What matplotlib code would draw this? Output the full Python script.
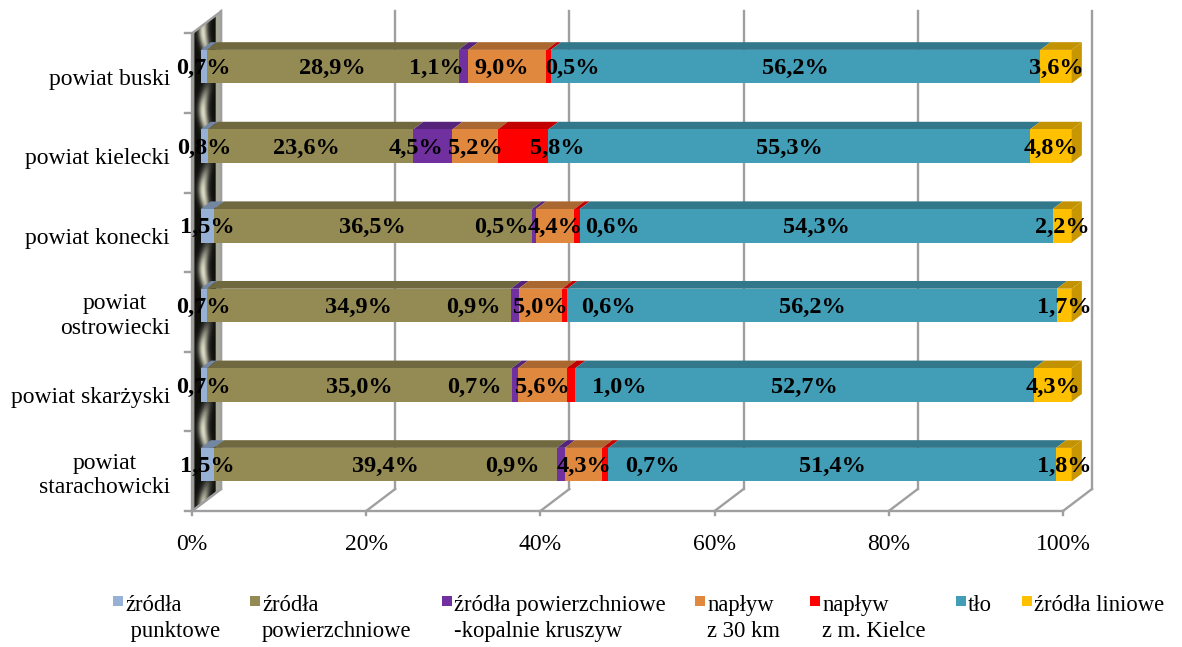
import matplotlib
matplotlib.use('Agg')
import matplotlib.pyplot as plt
from matplotlib.patches import Polygon, Rectangle
from matplotlib.colors import to_rgb
import numpy as np

plt.rcParams['font.family'] = ['Liberation Serif', 'DejaVu Serif']

# --- data -------------------------------------------------------------
categories = ['powiat buski', 'powiat kielecki', 'powiat konecki',
              'powiat\nostrowiecki', 'powiat skarżyski', 'powiat\nstarachowicki']
series_names = ['źródła\n punktowe', 'źródła\npowierzchniowe',
                'źródła powierzchniowe\n-kopalnie kruszyw', 'napływ\nz 30 km',
                'napływ\nz m. Kielce', 'tło', 'źródła liniowe']
punktowe = [0.7, 0.8, 1.5, 0.7, 0.7, 1.5]
powierzchniowe = [28.9, 23.6, 36.5, 34.9, 35.0, 39.4]
kopalnie = [1.1, 4.5, 0.5, 0.9, 0.7, 0.9]
naplyw_30km = [9.0, 5.2, 4.4, 5.0, 5.6, 4.3]
naplyw_kielce = [0.5, 5.8, 0.6, 0.6, 1.0, 0.7]
tlo = [56.2, 55.3, 54.3, 56.2, 52.7, 51.4]
liniowe = [3.6, 4.8, 2.2, 1.7, 4.3, 1.8]
xticks = [0, 20, 40, 60, 80, 100]

colors = ['#97b1d6', '#948a54', '#7030a0', '#e0883e', '#ff0000', '#429db6', '#ffc000']

# label nudges (pixels) where Excel pushed small labels apart
nudge = {(0, 2): -27, (0, 3): -6, (0, 4): 24,
         (1, 1): -4, (1, 2): -17, (1, 4): 34,
         (2, 2): -32, (2, 4): 35,
         (3, 2): -41, (3, 4): 44,
         (4, 2): -40, (4, 4): 48,
         (5, 2): -48, (5, 4): 47}

# --- layout (pixels of the 1182x647 picture) --------------------------
W, H = 1182, 647
PX_PCT = 8.71      # pixels per percent on the front plane
X0_PX = 192        # front 0 %
FLOOR_PX = 511     # front floor
CAT_PX = 79.6      # pixels per category
DX = 29 / PX_PCT   # full depth offset (percent units)
DY = 22 / CAT_PX   # full depth offset (category units)
D_FRONT, D_BACK = 0.30, 0.65
HALF = 0.21
PT = 0.72          # points per pixel at dpi 100

fig = plt.figure(figsize=(W / 100, H / 100), dpi=100)
ax = fig.add_axes([0, 0, 1, 1])
ax.axis('off')

n = len(categories)
ybot, ytop = -0.5, n - 0.5


def P(x, y, d):
    return (x + d * DX, y + d * DY)


def darker(c, f):
    return tuple(np.array(to_rgb(c)) * f)


grid = '#9f9f9f'

# back wall gridlines, floor diagonals, ticks
for v in xticks:
    ax.plot(*zip(P(v, ybot, 1), P(v, ytop, 1)), color=grid, lw=1.7, zorder=1)
    ax.plot(*zip(P(v, ybot, 0), P(v, ybot, 1)), color=grid, lw=1.7, zorder=1)
    ax.plot([v, v], [ybot, ybot - 0.055], color=grid, lw=1.7, zorder=1)
    ax.annotate(f'{v}%', (v, ybot), xytext=(0, -23 * PT), textcoords='offset points',
                ha='center', va='top', fontsize=17, zorder=5)
ax.plot([0, 100], [ybot, ybot], color=grid, lw=1.7, zorder=1)

# left side wall with a dark metallic gradient
wall = [P(0, ybot, 0), P(0, ybot, 1), P(0, ytop, 1), P(0, ytop, 0)]
uu, vv = np.meshgrid(np.linspace(0, 1, 60), np.linspace(ybot, ytop + DY, 400))
shine = np.exp(-((uu - (0.5 + 0.12 * np.sin(2 * np.pi * (vv + 0.2)))) / 0.16) ** 2)
shine *= 0.55 + 0.45 * np.cos(2 * np.pi * (vv + 0.5))
val = 0.06 + 0.8 * np.clip(shine, 0, 1)
val = np.where(uu > 0.82, 0.66, val)
val = np.where(uu < 0.08, 0.6, val)
rgb = np.dstack([val, val, val * 0.9])
img = ax.imshow(rgb, extent=(0, DX, ybot, ytop + DY), origin='lower',
                aspect='auto', interpolation='bilinear', zorder=2)
wall_patch = Polygon(wall, closed=True, facecolor='none', edgecolor=grid, lw=1.7, zorder=2.1)
ax.add_patch(wall_patch)
img.set_clip_path(wall_patch)
for k in range(n + 1):
    yk = ybot + k
    ax.plot([-0.75, 0], [yk, yk], color=grid, lw=1.7, zorder=2)

# bars
table = np.array([punktowe, powierzchniowe, kopalnie, naplyw_30km,
                  naplyw_kielce, tlo, liniowe]).T
for i, row in enumerate(table):
    yc = n - 1 - i
    left = 0.0
    for j, val_ in enumerate(row):
        a, b = left, left + val_
        c = colors[j]
        front = [P(a, yc - HALF, D_FRONT), P(b, yc - HALF, D_FRONT),
                 P(b, yc + HALF, D_FRONT), P(a, yc + HALF, D_FRONT)]
        top = [P(a, yc + HALF, D_FRONT), P(b, yc + HALF, D_FRONT),
               P(b, yc + HALF, D_BACK), P(a, yc + HALF, D_BACK)]
        ax.add_patch(Polygon(top, closed=True, facecolor=darker(c, 0.76), edgecolor='none', zorder=3))
        ax.add_patch(Polygon(front, closed=True, facecolor=c, edgecolor='none', zorder=3))
        if j == len(row) - 1:
            side = [P(b, yc - HALF, D_FRONT), P(b, yc - HALF, D_BACK),
                    P(b, yc + HALF, D_BACK), P(b, yc + HALF, D_FRONT)]
            ax.add_patch(Polygon(side, closed=True, facecolor=darker(c, 0.78), edgecolor='none', zorder=3))
        cx, cy = P((a + b) / 2, yc, D_FRONT)
        ax.annotate(f'{val_:.1f}%'.replace('.', ','), (cx, cy),
                    xytext=(nudge.get((i, j), 0) * PT, -2 * PT), textcoords='offset points',
                    ha='center', va='center', fontsize=17.5, fontweight='bold', zorder=6)
        left = b

# category labels
for i, cat in enumerate(categories):
    shift = -6 if '\n' not in cat else -4
    ax.annotate(cat, (0, n - 1 - i), xytext=(-22 * PT, shift * PT), textcoords='offset points',
                ha='right', va='center', multialignment='center', fontsize=17, zorder=5)

ax.set_xlim(-X0_PX / PX_PCT, (W - X0_PX) / PX_PCT)
ax.set_ylim((FLOOR_PX - H) / CAT_PX - 0.5, FLOOR_PX / CAT_PX - 0.5)

# legend laid out by hand (marker aligned with the first line)
fig.canvas.draw()
renderer = fig.canvas.get_renderer()
x = 113
for name, c in zip(series_names, colors):
    fig.patches.append(Rectangle((x / W, 1 - 606 / H), 10 / W, 10 / H, facecolor=c,
                                 edgecolor='none', transform=fig.transFigure, figure=fig))
    t = fig.text((x + 12) / W, 1 - 595 / H, name, ha='left', va='top', fontsize=16.3,
                 linespacing=1.3)
    w = t.get_window_extent(renderer).width
    x = x + 12 + w + 30

fig.savefig('out.png', dpi=100)
